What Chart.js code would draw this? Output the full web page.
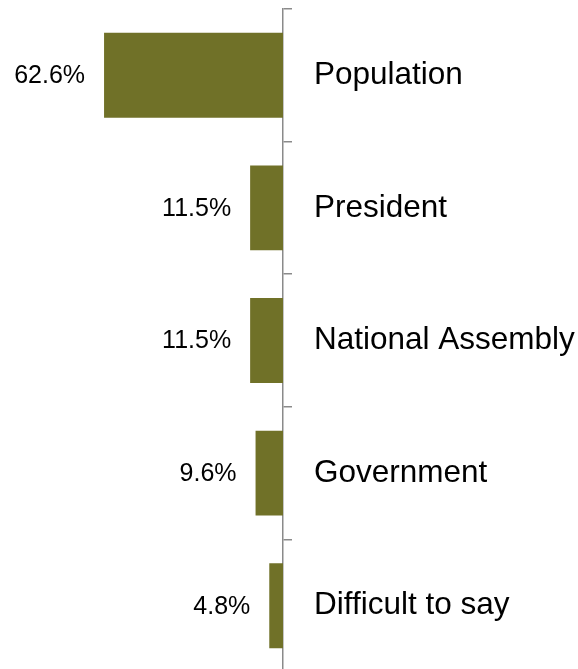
<!DOCTYPE html>
<html>
<head>
<meta charset="utf-8">
<script src="https://cdn.jsdelivr.net/npm/chart.js@4/dist/chart.umd.min.js"></script>
<style>
    html, body { margin: 0; padding: 0; overflow: hidden; background: #fff; }
    canvas { display: block; }
</style>
</head>
<body>
<canvas id="trustChart" width="578" height="674"></canvas>
<script>
const categories = ["Population", "President", "National Assembly", "Government", "Difficult to say"];
const shares = [62.6, 11.5, 11.5, 9.6, 4.8];
const shareLabels = ["62.6%", "11.5%", "11.5%", "9.6%", "4.8%"];

const fontFamily = "'Liberation Sans', Arial, sans-serif";

// puts the percent text just left of each bar end
const valueLabels = {
    id: "valueLabels",
    afterDatasetsDraw(chart){
        const ctx = chart.ctx;
        const meta = chart.getDatasetMeta(0);
        ctx.save();
        ctx.font = "25px " + fontFamily;
        ctx.fillStyle = "#000";
        ctx.textAlign = "right";
        ctx.textBaseline = "middle";
        meta.data.forEach(function(bar, i){
            ctx.fillText(shareLabels[i], bar.x - 19, bar.y + 1);
        });
        ctx.restore();
    }
};

const trustChart = new Chart(
    document.getElementById("trustChart"),
    {
        type: "bar",
        data: {
            labels: categories,
            datasets: [{
                data: shares,
                backgroundColor: "#707128",
                borderWidth: 0,
                categoryPercentage: 0.8,
                barPercentage: 0.8
            }]
        },
        options: {
            indexAxis: "y",
            responsive: false,
            animation: false,
            layout: { padding: { top: 9, bottom: 2, left: 0, right: 0 } },
            plugins: {
                legend: { display: false },
                tooltip: { enabled: false }
            },
            scales: {
                x: {
                    display: false,
                    reverse: true,
                    min: 0,
                    max: 99
                },
                y: {
                    position: "right",
                    afterFit(scale){
                        scale.width = 295;
                        // no extra room above/below for the label halves
                        scale.paddingTop = 0;
                        scale.paddingBottom = 0;
                    },
                    border: { display: true, color: "#8a8a8a", width: 1.5 },
                    grid: {
                        offset: true,
                        drawOnChartArea: false,
                        drawTicks: true,
                        tickLength: 9,
                        color: "#8a8a8a",
                        lineWidth: 1.5
                    },
                    ticks: {
                        crossAlign: "near",
                        padding: 22,
                        color: "#000",
                        font: { family: fontFamily, size: 31.5 }
                    }
                }
            }
        },
        plugins: [valueLabels]
    }
);
</script>
</body>
</html>
